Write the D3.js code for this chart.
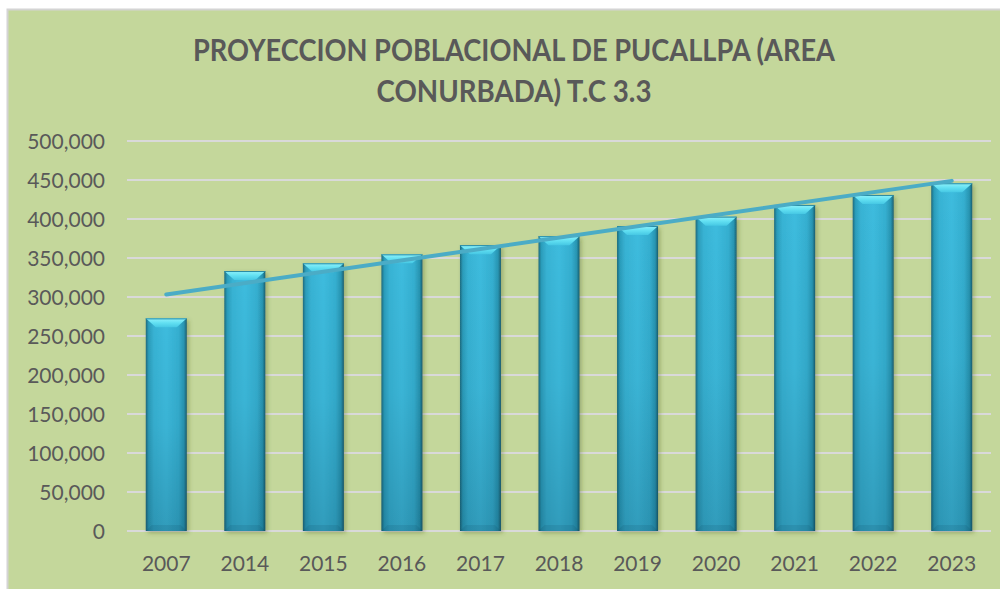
<!DOCTYPE html>
<html>
<head>
<meta charset="utf-8">
<script src="https://cdn.jsdelivr.net/npm/d3@7"></script>
<style>
  html, body { margin: 0; padding: 0; background: #ffffff; }
  svg { display: block; }
</style>
</head>
<body>
<svg id="chart" width="1000" height="589"></svg>
<script>
const titleLines = ["PROYECCION POBLACIONAL DE PUCALLPA (AREA", "CONURBADA) T.C 3.3"];
const categories = ["2007", "2014", "2015", "2016", "2017", "2018", "2019", "2020", "2021", "2022", "2023"];
const population = [272600, 333300, 343200, 354700, 366500, 378000, 391000, 403000, 418000, 430800, 445800];
const yTicks = [0, 50000, 100000, 150000, 200000, 250000, 300000, 350000, 400000, 450000, 500000];

const svg = d3.select("#chart");
const W = 1000, H = 589;
const plot = { left: 127, right: 991, top: 141, bottom: 531 };

// background
svg.append("rect").attr("x", 0).attr("y", 0).attr("width", W).attr("height", H).attr("fill", "#ffffff");
svg.append("rect").attr("x", 7.5).attr("y", 9.5).attr("width", W).attr("height", H)
  .attr("fill", "#c4d79b").attr("stroke", "#d4d4d4").attr("stroke-width", 2);

// defs
const defs = svg.append("defs");
const hg = defs.append("linearGradient").attr("id", "barH").attr("x1", "0").attr("x2", "1").attr("y1", "0").attr("y2", "0");
[[0, "#1d6a7d"], [0.07, "#2b9dbb"], [0.2, "#38b3d4"], [0.5, "#3dbcde"], [0.8, "#35afd0"], [0.93, "#2895b2"], [1, "#1a5f70"]]
  .forEach(([o, c]) => hg.append("stop").attr("offset", o).attr("stop-color", c));
const vg = defs.append("linearGradient").attr("id", "barV").attr("x1", "0").attr("x2", "0").attr("y1", "0").attr("y2", "1");
[[0, "rgba(0,30,50,0)"], [0.5, "rgba(0,30,50,0.05)"], [1, "rgba(0,30,50,0.2)"]]
  .forEach(([o, c]) => vg.append("stop").attr("offset", o).attr("stop-color", c));
const bg = defs.append("linearGradient").attr("id", "bevel").attr("x1", "0").attr("x2", "0").attr("y1", "0").attr("y2", "1");
[[0, "#8ff2fb"], [0.5, "#62e0f2"], [1, "#46c8e4"]]
  .forEach(([o, c]) => bg.append("stop").attr("offset", o).attr("stop-color", c));
const sh = defs.append("filter").attr("id", "shadow").attr("x", "-20%").attr("y", "-20%").attr("width", "140%").attr("height", "140%");
sh.append("feDropShadow").attr("dx", 2).attr("dy", 2).attr("stdDeviation", 2).attr("flood-color", "#445522").attr("flood-opacity", 0.35);

// scales
const x = d3.scaleBand().domain(categories).range([plot.left, plot.right]).paddingInner(0.478).paddingOuter(0.239);
const y = d3.scaleLinear().domain([0, 500000]).range([plot.bottom, plot.top]);

// gridlines
svg.append("g").selectAll("line").data(yTicks).join("line")
  .attr("x1", plot.left).attr("x2", plot.right)
  .attr("y1", d => y(d)).attr("y2", d => y(d))
  .attr("stroke", "#d9d9d9").attr("stroke-width", 2);

// y axis labels
const yAxis = d3.axisLeft(y).tickValues(yTicks).tickSize(0).tickPadding(0)
  .tickFormat(d => d3.format(",")(d));
const ya = svg.append("g").attr("transform", `translate(${plot.left - 22},0)`).call(yAxis);
ya.select(".domain").remove();
ya.selectAll("text").attr("font-family", "Lato, 'Open Sans', sans-serif").attr("font-size", 21)
  .attr("fill", "#595959").attr("dy", "0.36em");

// x axis labels
const xAxis = d3.axisBottom(x).tickSize(0).tickPadding(0);
const xa = svg.append("g").attr("transform", `translate(0,${plot.bottom})`).call(xAxis);
xa.select(".domain").remove();
xa.selectAll("text").attr("font-family", "Lato, 'Open Sans', sans-serif").attr("font-size", 21)
  .attr("fill", "#595959").attr("y", 40).attr("dy", 0);

// bars
const bars = svg.append("g").selectAll("g").data(categories.map((c, i) => ({ c, v: population[i] }))).join("g");
bars.append("rect").attr("filter", "url(#shadow)")
  .attr("x", d => x(d.c)).attr("y", d => y(d.v)).attr("width", x.bandwidth()).attr("height", d => y(0) - y(d.v))
  .attr("fill", "url(#barH)");
bars.append("rect")
  .attr("x", d => x(d.c)).attr("y", d => y(d.v)).attr("width", x.bandwidth()).attr("height", d => y(0) - y(d.v))
  .attr("fill", "url(#barV)");
// top bevel
const bev = 9;
bars.append("path")
  .attr("d", d => {
    const x0 = x(d.c), x1 = x0 + x.bandwidth(), t = y(d.v);
    return `M${x0},${t}L${x1},${t}L${x1 - bev - 1},${t + bev}L${x0 + bev + 1},${t + bev}Z`;
  })
  .attr("fill", "url(#bevel)");
// top dark edge
bars.append("line")
  .attr("x1", d => x(d.c)).attr("x2", d => x(d.c) + x.bandwidth())
  .attr("y1", d => y(d.v) + 0.5).attr("y2", d => y(d.v) + 0.5)
  .attr("stroke", "#2a8aa3").attr("stroke-width", 1);
// bottom bevel
bars.append("path")
  .attr("d", d => {
    const x0 = x(d.c), x1 = x0 + x.bandwidth(), b = y(0);
    return `M${x0},${b}L${x1},${b}L${x1 - 6},${b - 6}L${x0 + 6},${b - 6}Z`;
  })
  .attr("fill", "rgba(10,60,80,0.12)");

// linear trendline (least squares over category index)
const n = population.length;
const idx = d3.range(1, n + 1);
const mx = d3.mean(idx), my = d3.mean(population);
const slope = d3.sum(idx.map((k, i) => (k - mx) * (population[i] - my))) / d3.sum(idx.map(k => (k - mx) ** 2));
const intercept = my - slope * mx;
const trend = [1, n].map(k => ({ c: categories[k - 1], v: intercept + slope * k }));
svg.append("path")
  .datum(trend)
  .attr("d", d3.line().x(d => x(d.c) + x.bandwidth() / 2).y(d => y(d.v)))
  .attr("fill", "none").attr("stroke", "#4bacc6").attr("stroke-width", 4).attr("stroke-linecap", "round");

// title
const tW = [642, 275];
svg.append("g").selectAll("text").data(titleLines).join("text")
  .attr("x", 514).attr("y", (d, i) => 61 + i * 41)
  .attr("text-anchor", "middle")
  .attr("font-family", "Lato, 'Open Sans', sans-serif").attr("font-weight", "bold").attr("font-size", 31)
  .attr("fill", "#595959")
  .attr("textLength", (d, i) => tW[i]).attr("lengthAdjust", "spacingAndGlyphs")
  .text(d => d);
</script>
</body>
</html>
